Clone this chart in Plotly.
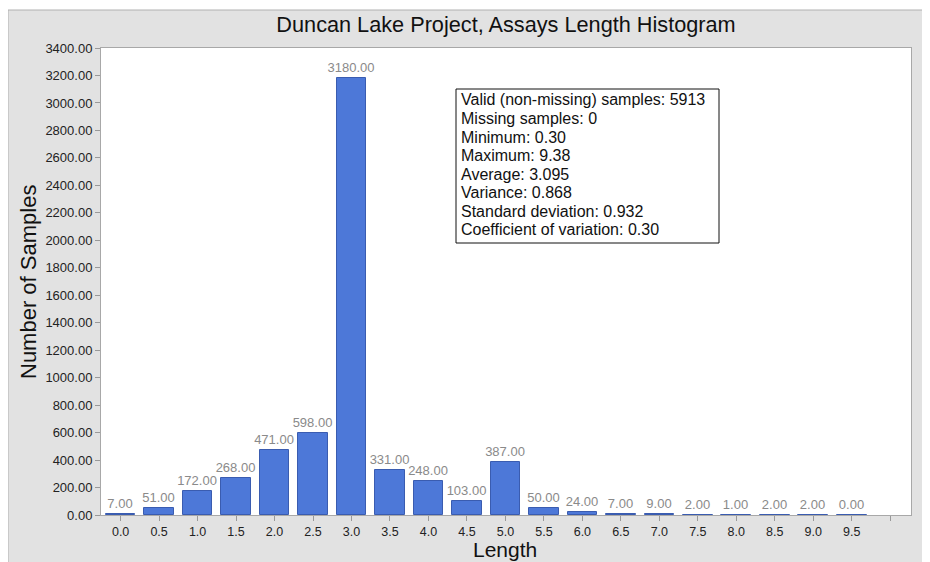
import plotly.graph_objects as go

lengths = [0.0, 0.5, 1.0, 1.5, 2.0, 2.5, 3.0, 3.5, 4.0, 4.5, 5.0, 5.5, 6.0, 6.5, 7.0, 7.5, 8.0, 8.5, 9.0, 9.5]
counts = [7, 51, 172, 268, 471, 598, 3180, 331, 248, 103, 387, 50, 24, 7, 9, 2, 1, 2, 2, 0]
tick_vals = [i * 0.5 for i in range(21)]
tick_text = [f"{v:.1f}" for v in tick_vals[:-1]] + [""]
stats_lines = [
    "Valid (non-missing) samples: 5913",
    "Missing samples: 0",
    "Minimum: 0.30",
    "Maximum: 9.38",
    "Average: 3.095",
    "Variance: 0.868",
    "Standard deviation: 0.932",
    "Coefficient of variation: 0.30",
]

FONT = "Liberation Sans, Arial, sans-serif"
# page has an 8px body margin; work in screenshot pixel coords (S) and convert
OFF = 8
SW, SH = 930, 562
W, H = SW - OFF, SH - OFF
PL, PR, PT, PB = 101, 911, 48, 515  # plot area in screenshot coords
L, R, T, B = PL - OFF, SW - PR, PT - OFF, SH - PB
pw, ph = PR - PL, PB - PT

def px_x(x):
    return (x - PL) / pw

def px_y(y):
    return (PB - y) / ph

fig = go.Figure()
fig.add_trace(go.Bar(
    x=lengths, y=counts, width=0.385,
    marker=dict(color="#4d78d8", line=dict(color="#3a5cb0", width=1)),
    texttemplate="%{y:.2f}", textposition="outside", constraintext="none",
    textfont=dict(family=FONT, size=13, color="#8a8a8a"),
    cliponaxis=False,
))

fig.update_layout(
    width=W, height=H,
    margin=dict(l=L, r=R, t=T, b=B, autoexpand=False),
    paper_bgcolor="white", plot_bgcolor="white",
    showlegend=False,
    font=dict(family=FONT, color="#222"),
    title=dict(text="Duncan Lake Project, Assays Length Histogram",
               font=dict(family=FONT, size=21.7, color="#111"),
               x=0.5, xref="paper", xanchor="center",
               y=1 - (24 - OFF) / H, yref="container", yanchor="middle"),
    xaxis=dict(range=[-0.255, 10.27], tickmode="array", tickvals=tick_vals, ticktext=tick_text,
               ticks="outside", ticklen=5, tickcolor="#999", tickwidth=1,
               tickfont=dict(family=FONT, size=12.5, color="#222"),
               showline=True, linecolor="#a8a8a8", linewidth=1, mirror=True,
               showgrid=False, zeroline=False, automargin=False),
    yaxis=dict(range=[0, 3400], dtick=200, tickformat=".2f",
               ticks="outside", ticklen=5, tickcolor="#999", tickwidth=1,
               tickfont=dict(family=FONT, size=13, color="#222"),
               showline=True, linecolor="#a8a8a8", linewidth=1, mirror=True,
               showgrid=False, zeroline=False, automargin=False),
    bargap=0,
)

# gray panel and white plot area
fig.add_shape(type="rect", xref="paper", yref="paper", layer="below",
              x0=px_x(8), x1=px_x(945), y0=px_y(575), y1=px_y(10),
              fillcolor="#e2e2e2", line=dict(color="#b0b0b0", width=1))
fig.add_shape(type="rect", xref="paper", yref="paper", layer="below",
              x0=0, x1=1, y0=0, y1=1, fillcolor="white", line=dict(width=0))

fig.add_annotation(text="Number of Samples", xref="paper", yref="paper",
                   x=px_x(28), y=px_y(282), textangle=-90, showarrow=False,
                   font=dict(family=FONT, size=22, color="#111"),
                   xanchor="center", yanchor="middle")
fig.add_annotation(text="Length", xref="paper", yref="paper",
                   x=px_x(505), y=px_y(549), showarrow=False,
                   font=dict(family=FONT, size=21, color="#111"),
                   xanchor="center", yanchor="middle")

# statistics box
fig.add_shape(type="rect", xref="paper", yref="paper",
              x0=px_x(456), x1=px_x(719), y0=px_y(243), y1=px_y(89),
              fillcolor="white", line=dict(color="#111", width=1))
for i, line in enumerate(stats_lines):
    fig.add_annotation(text=line, xref="paper", yref="paper",
                       x=px_x(459), y=px_y(100 + i * 18.57),
                       xanchor="left", yanchor="middle", align="left",
                       showarrow=False,
                       font=dict(family=FONT, size=16, color="#111"))

fig.write_html("out.html")
